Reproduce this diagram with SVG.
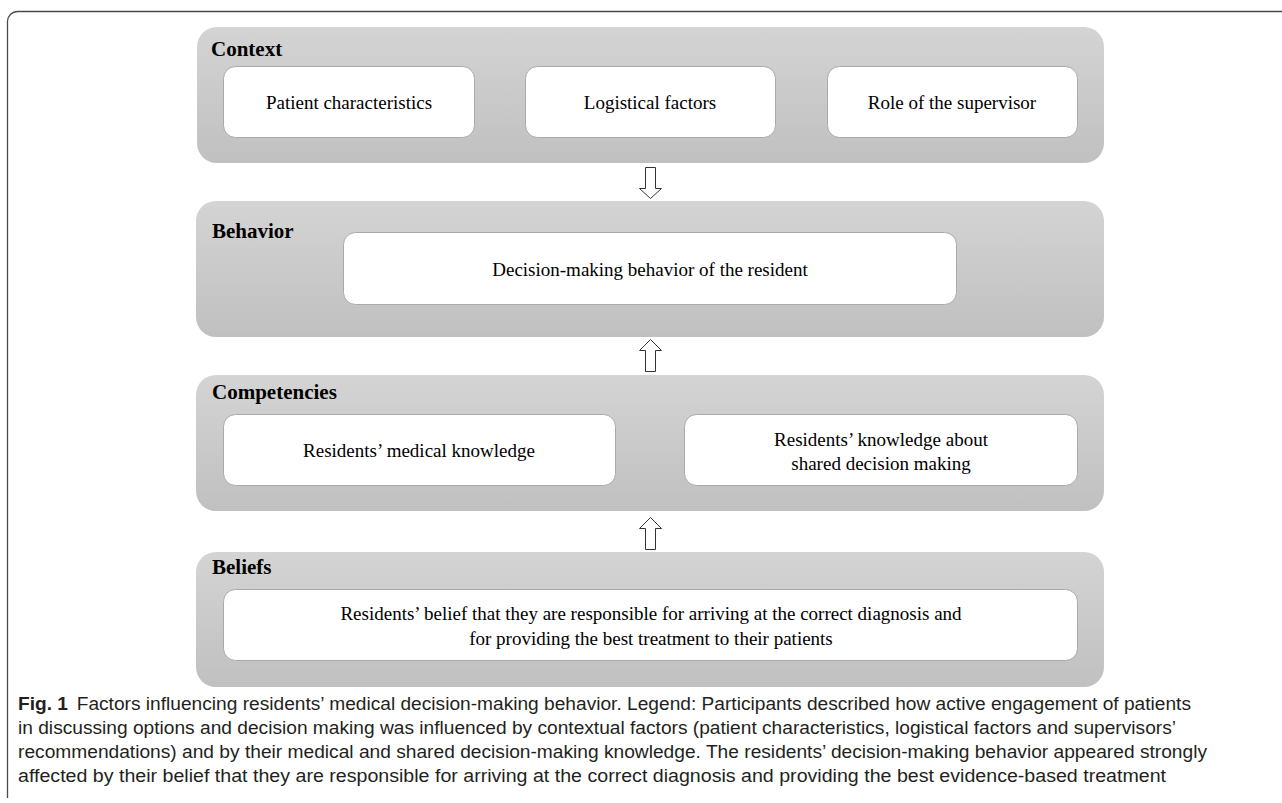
<svg xmlns="http://www.w3.org/2000/svg" width="1282" height="803" viewBox="0 0 1282 803">
<defs>
<linearGradient id="grp" x1="0" y1="0" x2="0" y2="1">
<stop offset="0" stop-color="#d4d4d4"/>
<stop offset="1" stop-color="#c0c0c0"/>
</linearGradient>
</defs>
<style>
.grp{fill:url(#grp);}
.box{fill:#ffffff;stroke:#a9a9a9;stroke-width:1;}
.ttl{font-family:"Liberation Serif","Times New Roman",serif;font-weight:bold;font-size:21px;fill:#000;}
.lbl{font-family:"Liberation Serif","Times New Roman",serif;font-size:19px;fill:#000;text-anchor:middle;}
.arr{fill:#ffffff;stroke:#333;stroke-width:1;}
.cap{font-family:"Liberation Sans",Arial,sans-serif;font-size:17.5px;fill:#231f20;}
.capb{font-weight:bold;}
</style>
<rect width="1282" height="803" fill="#ffffff"/>
<path d="M7.5,798 V21 A10,10 0 0 1 17.5,11.5 H1282" fill="none" stroke="#4a4a4a" stroke-width="1.3"/>

<g id="context">
<rect class="grp" x="197" y="27" width="907" height="136" rx="20"/>
<text class="ttl" x="211" y="56">Context</text>
<g id="patient"><rect class="box" x="223.5" y="66.5" width="251" height="71" rx="12"/><text class="lbl" x="349" y="109">Patient characteristics</text></g>
<g id="logistical"><rect class="box" x="525.5" y="66.5" width="250" height="71" rx="12"/><text class="lbl" x="650" y="109">Logistical factors</text></g>
<g id="supervisor"><rect class="box" x="827.5" y="66.5" width="250" height="71" rx="12"/><text class="lbl" x="952" y="109">Role of the supervisor</text></g>
</g>

<g id="behavior">
<rect class="grp" x="196" y="201" width="908" height="136" rx="20"/>
<text class="ttl" x="212" y="238">Behavior</text>
<g id="decision"><rect class="box" x="343.5" y="232.5" width="613" height="72" rx="12"/><text class="lbl" x="650" y="276">Decision-making behavior of the resident</text></g>
</g>

<g id="competencies">
<rect class="grp" x="196" y="375" width="908" height="136" rx="20"/>
<text class="ttl" x="212" y="399">Competencies</text>
<g id="medical"><rect class="box" x="223.5" y="414.5" width="392" height="71" rx="12"/><text class="lbl" x="419" y="457">Residents’ medical knowledge</text></g>
<g id="sdm"><rect class="box" x="684.5" y="414.5" width="393" height="71" rx="12"/><text class="lbl" x="881" y="446">Residents’ knowledge about</text><text class="lbl" x="881" y="470">shared decision making</text></g>
</g>

<g id="beliefs">
<rect class="grp" x="196" y="552" width="908" height="135" rx="20"/>
<text class="ttl" x="212" y="574">Beliefs</text>
<g id="belief"><rect class="box" x="223.5" y="589.5" width="854" height="71" rx="12"/><text class="lbl" x="651" y="620">Residents’ belief that they are responsible for arriving at the correct diagnosis and</text><text class="lbl" x="651" y="645">for providing the best treatment to their patients</text></g>
</g>

<g id="connectors">
<path class="arr" d="M645.5,167.5 H655.5 V188.5 H661.5 L650.5,198.5 L639.5,188.5 H645.5 Z"/>
<path class="arr" d="M645.5,371.5 H655.5 V350.5 H661.5 L650.5,339.5 L639.5,350.5 H645.5 Z"/>
<path class="arr" d="M645.5,549.5 H655.5 V528.5 H661.5 L650.5,517.5 L639.5,528.5 H645.5 Z"/>
</g>

<g id="caption">
<text class="cap" x="18" y="710" textLength="1173" lengthAdjust="spacingAndGlyphs"><tspan class="capb">Fig. 1</tspan><tspan dx="8">Factors influencing residents’ medical decision-making behavior. Legend: Participants described how active engagement of patients</tspan></text>
<text class="cap" x="18" y="734" textLength="1158" lengthAdjust="spacingAndGlyphs">in discussing options and decision making was influenced by contextual factors (patient characteristics, logistical factors and supervisors’</text>
<text class="cap" x="18" y="758" textLength="1189" lengthAdjust="spacingAndGlyphs">recommendations) and by their medical and shared decision-making knowledge. The residents’ decision-making behavior appeared strongly</text>
<text class="cap" x="18" y="782" textLength="1148" lengthAdjust="spacingAndGlyphs">affected by their belief that they are responsible for arriving at the correct diagnosis and providing the best evidence-based treatment</text>
</g>
</svg>
